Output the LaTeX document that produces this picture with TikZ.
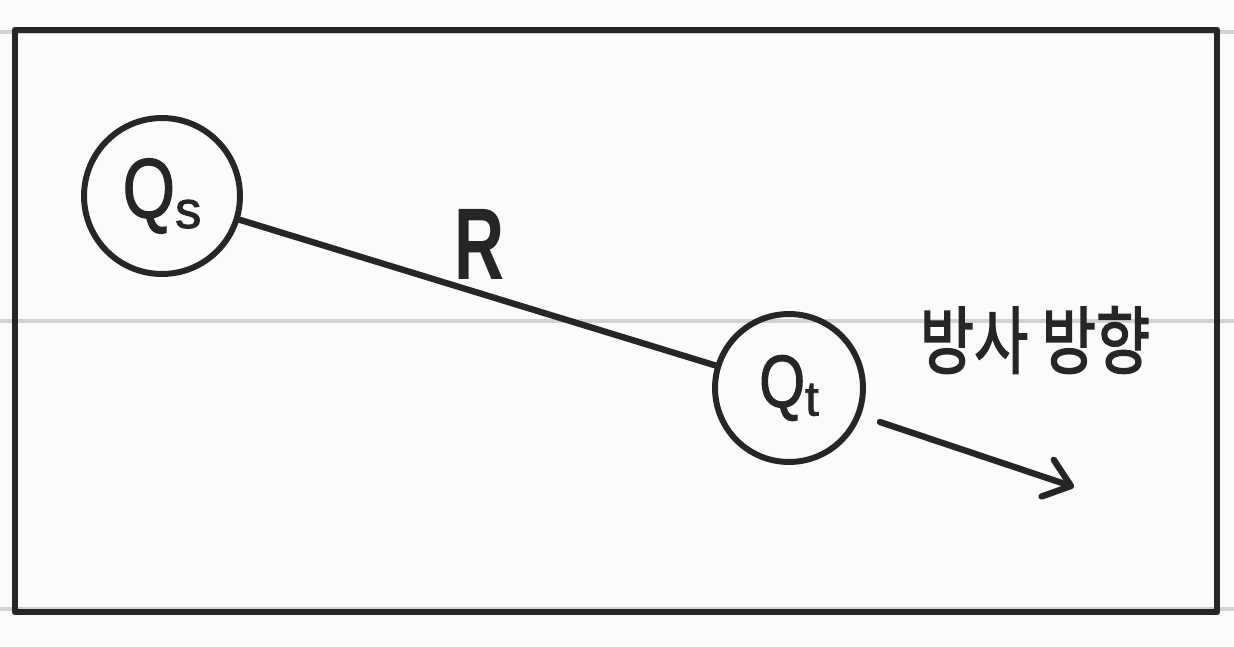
\documentclass[tikz,border=0pt]{standalone}
\usepackage{fontspec}
\setmainfont{Liberation Sans}
\newfontfamily\latfont[FakeBold=1.6]{Liberation Sans}
\newfontfamily\krfont[FakeBold=2.2]{Noto Sans CJK KR}
\usetikzlibrary{arrows.meta}
\definecolor{ink}{HTML}{262626}
\definecolor{ruleline}{HTML}{D2D2D2}
\definecolor{paper}{HTML}{FBFBFB}
\begin{document}
\begin{tikzpicture}[x=0.02cm,y=-0.02cm,
  inkline/.style={draw=ink, line width=3.6pt, line cap=round, line join=round},
  framebox/.style={draw=ink, line width=3.9pt, line join=round},
  charge/.style={circle, draw=ink, line width=3.4pt, inner sep=0pt, text=ink},
  paperline/.style={draw=ruleline, line width=2.4pt}]
\fill[paper] (0,0) rectangle (1234,646);
\useasboundingbox (0,0) rectangle (1234,646);
\foreach \yy in {32,321,609} \draw[paperline] (0,\yy) -- (1234,\yy);
\draw[framebox] (15,30) rectangle (1217,612);
\node[charge, minimum size=3.12cm] (qs) at (162,196)
  {\latfont\fontsize{48}{48}\selectfont\scalebox{0.8}[1]{Q}\raisebox{-6pt}{\fontsize{30}{30}\selectfont s}};
\node[charge, minimum size=2.96cm] (qt) at (789,388)
  {\latfont\fontsize{42}{42}\selectfont\scalebox{0.8}[1]{Q}\raisebox{-5pt}{\fontsize{28}{28}\selectfont t}};
\draw[inkline] (qs) -- (qt);
\node[text=ink, inner sep=0pt] (rlabel) at (480,244)
  {\fontsize{58}{58}\selectfont\bfseries\scalebox{0.68}[1]{R}};
\coordinate (a0) at (880,422);
\coordinate (a1) at (1074,487);
\draw[inkline, -{Straight Barb[length=14pt,width=22pt,line cap=round,line join=round]}] (a0) -- (a1);
\node[text=ink, inner sep=0pt] (dir) at (1035,340)
  {\krfont\fontsize{42}{42}\selectfont\scalebox{0.8}[1]{방사 방향}};
\end{tikzpicture}
\end{document}
